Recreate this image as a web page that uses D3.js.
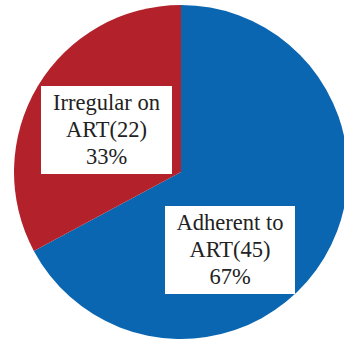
<!DOCTYPE html>
<html>
<head>
<meta charset="utf-8">
<script src="https://cdn.jsdelivr.net/npm/d3@7"></script>
<style>
  html, body { margin: 0; padding: 0; background: #fff; }
  svg { display: block; }
</style>
</head>
<body>
<svg id="chart" width="344" height="343"></svg>
<script>
// ART adherence breakdown
const categories = ["Adherent to ART", "Irregular on ART"];
const counts = [45, 22];
const percents = ["67%", "33%"];
const colors = ["#0b66b1", "#b3222a"];

const svg = d3.select("#chart");
const cx = 181, cy = 172, radius = 167;

const pie = d3.pie().sort(null).value(d => d)(counts);
const arc = d3.arc().innerRadius(0).outerRadius(radius);

const g = svg.append("g").attr("transform", `translate(${cx},${cy})`);

g.selectAll("path.slice")
  .data(pie)
  .join("path")
  .attr("class", "slice")
  .attr("d", arc)
  .attr("fill", (d, i) => colors[i]);

// label boxes, offset from the pie centre
const boxes = [
  { x: -16, y: 34, w: 130, h: 88 },   // Adherent
  { x: -140, y: -86, w: 131, h: 88 }  // Irregular
];

const lineGap = 27;
const font = "'Liberation Serif', 'DejaVu Serif', serif";

pie.forEach((p, i) => {
  const b = boxes[i];
  const lg = g.append("g").attr("transform", `translate(${b.x},${b.y})`);
  lg.append("rect")
    .attr("width", b.w).attr("height", b.h)
    .attr("fill", "#fff");
  const words = categories[i].split(" ");
  const lines = [
    words.slice(0, 2).join(" "),
    words.slice(2).join(" ") + "(" + counts[i] + ")",
    percents[i]
  ];
  lg.selectAll("text")
    .data(lines)
    .join("text")
    .attr("x", b.w / 2)
    .attr("y", (d, j) => 24 + j * lineGap)
    .attr("text-anchor", "middle")
    .attr("font-family", font)
    .attr("font-size", 22.5)
    .attr("fill", "#222")
    .text(d => d);
});
</script>
</body>
</html>
